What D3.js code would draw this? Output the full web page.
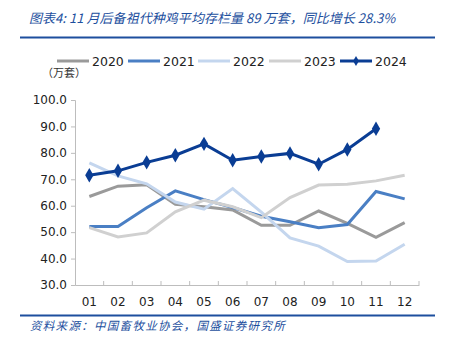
<!DOCTYPE html>
<html>
<head>
<meta charset="utf-8">
<script src="https://cdn.jsdelivr.net/npm/d3@7"></script>
<style>
  body { margin: 0; background: #fff; }
  svg { display: block; }
</style>
</head>
<body>
<svg width="451" height="353"></svg>
<script>
var months = ["01", "02", "03", "04", "05", "06", "07", "08", "09", "10", "11", "12"];
var years = ["2020", "2021", "2022", "2023", "2024"];
var yTicks = [30, 40, 50, 60, 70, 80, 90, 100];

// 后备祖代种鸡平均存栏量（万套）
var v2020 = [63.5, 67.4, 67.9, 60.5, 59.6, 58.4, 52.6, 52.6, 58.0, 53.3, 48.0, 53.6];
var v2021 = [52.1, 52.1, 59.2, 65.6, 62.3, 59.3, 56.0, 53.9, 51.7, 52.9, 65.4, 62.6];
var v2022 = [76.2, 71.3, 68.3, 61.4, 58.7, 66.5, 57.6, 47.8, 44.7, 38.9, 39.1, 45.4];
var v2023 = [51.7, 48.2, 49.7, 57.7, 62.1, 59.6, 55.5, 63.1, 67.8, 68.1, 69.4, 71.5];
var v2024 = [71.5, 73.2, 76.4, 79.1, 83.4, 77.2, 78.6, 79.8, 75.7, 81.3, 89.1];

var series = [v2020, v2021, v2022, v2023, v2024];
var colors = ["#9a9a9a", "#4a7fc4", "#c4d6ee", "#d0d0d0", "#0a3d94"];

var svg = d3.select("svg");
var blue = "#1d4f9e";

// 标题
svg.append("text")
    .attr("x", 29).attr("y", 23)
    .attr("font-family", "Noto Sans CJK SC")
    .attr("font-size", 13)
    .attr("letter-spacing", 0.05)
    .attr("font-style", "italic")
    .attr("fill", blue)
    .text("图表4:  11 月后备祖代种鸡平均存栏量 89 万套，同比增长 28.3%");

svg.append("line").attr("x1", 20).attr("x2", 435).attr("y1", 37.5).attr("y2", 37.5)
    .attr("stroke", blue).attr("stroke-width", 1.8);
svg.append("line").attr("x1", 20).attr("x2", 435).attr("y1", 315.5).attr("y2", 315.5)
    .attr("stroke", blue).attr("stroke-width", 1.8);

svg.append("text")
    .attr("x", 30).attr("y", 330)
    .attr("font-family", "Noto Sans CJK SC")
    .attr("font-size", 11.5)
    .attr("letter-spacing", 1.3)
    .attr("font-style", "italic")
    .attr("fill", blue)
    .text("资料来源：中国畜牧业协会，国盛证券研究所");

var margin = {top: 100, left: 75, right: 32, bottom: 68};
var width = 451 - margin.left - margin.right,
    height = 353 - margin.top - margin.bottom;
var g = svg.append("g").attr("transform", "translate(" + margin.left + "," + margin.top + ")");

var x = d3.scaleBand().domain(months).range([0, width]);
var y = d3.scaleLinear().domain([30, 100]).range([height, 0]);

var axisColor = "#bdbdbd";

// y 轴
var yAxis = g.append("g")
    .call(d3.axisLeft(y).tickValues(yTicks).tickFormat(d3.format(".1f")).tickSize(4).tickPadding(4));
yAxis.select(".domain").attr("stroke", axisColor);
yAxis.selectAll(".tick line").attr("stroke", axisColor);
yAxis.selectAll("text").attr("font-family", "DejaVu Sans").attr("font-size", 12).attr("fill", "#222");

// x 轴
var xAxis = g.append("g").attr("transform", "translate(0," + height + ")")
    .call(d3.axisBottom(x).tickSize(0).tickPadding(12));
xAxis.select(".domain").attr("stroke", axisColor);
xAxis.selectAll("text").attr("font-family", "DejaVu Sans").attr("font-size", 12).attr("fill", "#222");
g.append("g").selectAll("line")
    .data(months)
    .enter().append("line")
    .attr("x1", function(d) { return x(d) + x.bandwidth(); })
    .attr("x2", function(d) { return x(d) + x.bandwidth(); })
    .attr("y1", height).attr("y2", height - 4)
    .attr("stroke", axisColor);

var line = d3.line()
    .x(function(d, i) { return x(months[i]) + x.bandwidth() / 2; })
    .y(function(d) { return y(d); });

series.forEach(function(s, k) {
  g.append("path")
      .datum(s)
      .attr("fill", "none")
      .attr("stroke", colors[k])
      .attr("stroke-width", 3)
      .attr("d", line);
});

var diamond = d3.symbol().type(d3.symbolDiamond).size(60);
g.selectAll(".pt")
    .data(v2024)
    .enter().append("path")
    .attr("transform", function(d, i) { return "translate(" + (x(months[i]) + x.bandwidth() / 2) + "," + y(d) + ")"; })
    .attr("d", diamond)
    .attr("fill", colors[4]);

// 图例
var legendX = [57, 128, 198, 269, 340];
var leg = svg.append("g").selectAll("g")
    .data(years)
    .enter().append("g")
    .attr("transform", function(d, i) { return "translate(" + legendX[i] + ",61)"; });
leg.append("line").attr("x1", 0).attr("x2", 32).attr("y1", 0).attr("y2", 0)
    .attr("stroke", function(d, i) { return colors[i]; })
    .attr("stroke-width", 3);
leg.filter(function(d, i) { return i === 4; }).append("path")
    .attr("transform", "translate(16,0)")
    .attr("d", d3.symbol().type(d3.symbolDiamond).size(30))
    .attr("fill", colors[4]);
leg.append("text")
    .attr("x", 35).attr("y", 4.5)
    .attr("font-family", "DejaVu Sans")
    .attr("font-size", 12.5)
    .attr("fill", "#222")
    .text(function(d) { return d; });

svg.append("text")
    .attr("x", 42).attr("y", 77)
    .attr("font-family", "Noto Sans CJK SC")
    .attr("font-size", 11)
    .attr("fill", "#333")
    .text("（万套）");
</script>
</body>
</html>
